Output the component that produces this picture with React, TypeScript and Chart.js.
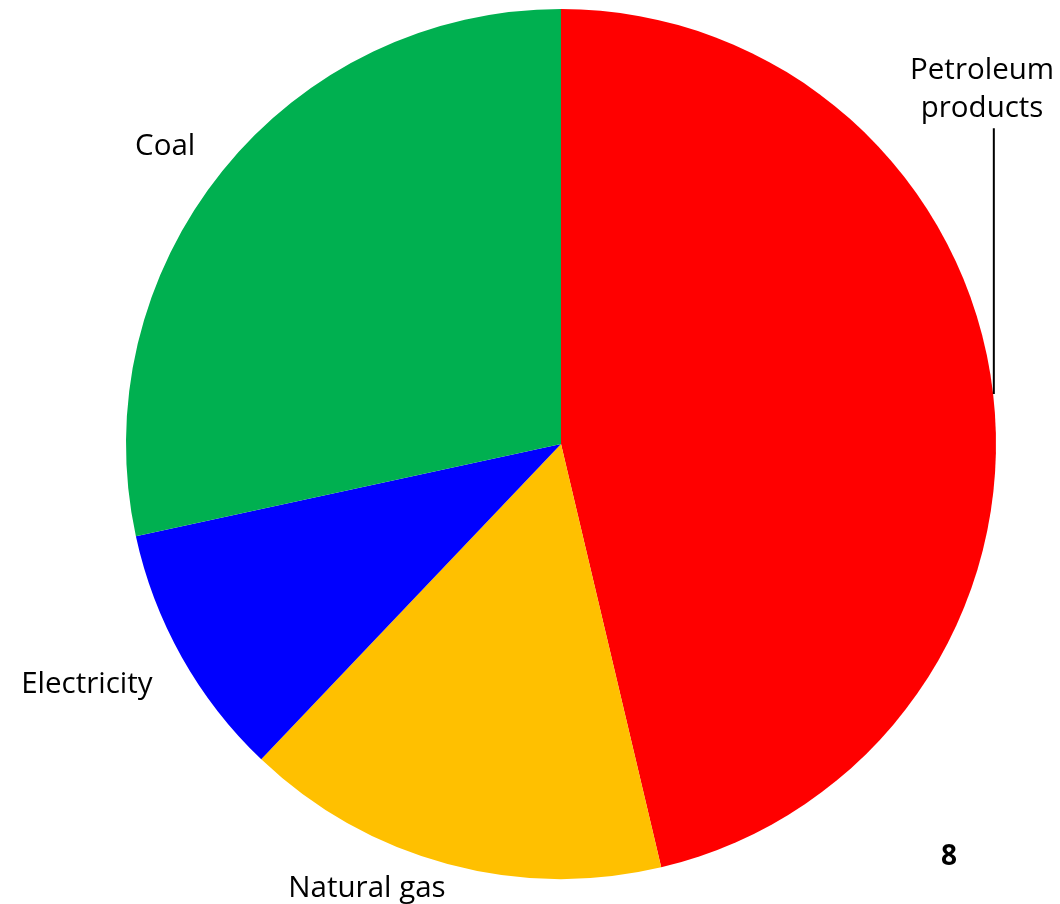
import React, { useEffect, useRef } from "react";
import { Chart, registerables } from "chart.js";

Chart.register(...registerables);

// Energy sources, clockwise from 12 o'clock
const categories: string[] = ["Petroleum products", "Natural gas", "Electricity", "Coal"];
const shares: number[] = [46.3, 15.8, 9.5, 28.4];
const sliceColors: string[] = ["#FF0000", "#FFC000", "#0000FF", "#00B050"];

// Label text lines per category
const labelLines: string[][] = [["Petroleum", "products"], ["Natural gas"], ["Electricity"], ["Coal"]];
const pageNumber = "8";

// Label anchors in units of the pie radius, relative to the centre (centre x, first baseline)
const labelAnchors: [number, number][] = [
  [0.968, -0.839],
  [-0.446, 1.041],
  [-1.09, 0.572],
  [-0.91, -0.664],
];

const FONT = '"Open Sans", "Noto Sans", sans-serif';

const labelPlugin = {
  id: "sliceLabels",
  afterDraw(chart: any) {
    const ctx = chart.ctx as CanvasRenderingContext2D;
    const meta = chart.getDatasetMeta(0);
    const arc0 = meta.data[0] as any;
    const cx = arc0.x;
    const cy = arc0.y;
    const r = arc0.outerRadius;
    ctx.save();
    ctx.fillStyle = "#000000";
    ctx.font = `29.5px ${FONT}`;
    ctx.textAlign = "center";
    ctx.textBaseline = "alphabetic";
    labelLines.forEach((lines, i) => {
      const [fx, fy] = labelAnchors[i];
      lines.forEach((line, j) => {
        ctx.fillText(line, cx + fx * r, cy + fy * r + j * 38);
      });
    });
    // leader line for the petroleum label
    ctx.strokeStyle = "#000000";
    ctx.lineWidth = 2;
    ctx.beginPath();
    ctx.moveTo(cx + 0.995 * r, cy - 0.726 * r);
    ctx.lineTo(cx + 0.995 * r, cy - 0.115 * r);
    ctx.stroke();
    // page number
    ctx.font = `bold 28px ${FONT}`;
    ctx.fillText(pageNumber, 949, 865);
    ctx.restore();
  },
};

export default function App() {
  const canvasRef = useRef<HTMLCanvasElement | null>(null);

  useEffect(() => {
    if (!canvasRef.current) return;
    const chart = new Chart(canvasRef.current, {
      type: "pie",
      data: {
        labels: categories,
        datasets: [
          {
            data: shares,
            backgroundColor: sliceColors,
            borderWidth: 0,
          },
        ],
      },
      options: {
        responsive: false,
        animation: false,
        layout: { padding: { left: 62, right: 0, top: 9, bottom: 25 } },
        plugins: {
          legend: { display: false },
          tooltip: { enabled: false },
        },
      },
      plugins: [labelPlugin],
    });
    return () => chart.destroy();
  }, []);

  return (
    <div style={{ position: "fixed", left: 0, top: 0, width: 1060, height: 904, background: "#ffffff" }}>
      <canvas ref={canvasRef} width={1060} height={904} />
    </div>
  );
}
